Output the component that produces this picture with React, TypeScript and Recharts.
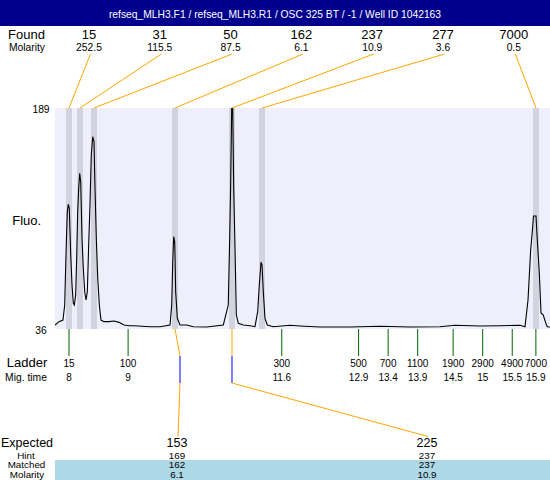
import React from "react";
import {
  ComposedChart,
  Line,
  XAxis,
  YAxis,
  CartesianGrid,
  ReferenceArea,
  ReferenceLine
} from "recharts";

const FONT = "'Liberation Sans', Arial, Helvetica, sans-serif";

// electropherogram trace: migration time (s) vs fluorescence
const traceTime = [
  7.763, 7.831, 7.898, 7.927, 7.949, 7.971, 7.988, 8.005, 8.029, 8.051,
  8.073, 8.09, 8.113, 8.13, 8.147, 8.164, 8.181, 8.198, 8.22, 8.242,
  8.266, 8.288, 8.31, 8.333, 8.355, 8.377, 8.401, 8.423, 8.44, 8.462,
  8.486, 8.513, 8.541, 8.592, 8.677, 8.761, 8.846, 8.931, 9.015, 9.1,
  9.371, 9.54, 9.709, 9.738, 9.755, 9.772, 9.789, 9.805, 9.833, 9.878,
  9.992, 10.103, 10.33, 10.611, 10.695, 10.719, 10.736, 10.753, 10.77, 10.787,
  10.809, 10.831, 10.865, 10.949, 11.063, 11.147, 11.193, 11.22, 11.249, 11.266,
  11.288, 11.316, 11.355, 11.457, 11.739, 11.909, 12.247, 12.755, 13.262, 13.77,
  14.277, 14.531, 14.954, 15.293, 15.631, 15.716, 15.767, 15.812, 15.846, 15.86,
  15.902, 15.924, 15.958, 15.987, 16.025, 16.066, 16.093, 16.139
];
const traceFluo = [
  38.8, 41.1, 42.2, 52.6, 87.2, 117.2, 122.3, 119.6, 87.2, 66.5,
  53.8, 52.6, 59.5, 85.2, 117.2, 133.4, 143.8, 138.0, 98.8, 78.0,
  61.8, 56.1, 61.8, 94.1, 121.8, 156.5, 169.1, 165.7, 133.4, 98.8,
  71.1, 52.6, 42.2, 41.1, 41.1, 41.5, 40.6, 38.8, 38.3, 38.3,
  37.6, 37.6, 38.8, 52.6, 82.6, 99.9, 96.4, 61.8, 43.4, 38.8,
  38.8, 37.6, 37.4, 38.8, 52.6, 98.8, 138.0, 189, 189, 133.4,
  91.9, 45.7, 39.9, 38.8, 38.3, 37.6, 48.0, 66.5, 82.2, 80.3,
  61.8, 43.4, 38.8, 37.6, 38.6, 38.1, 37.4, 37.4, 37.9, 37.4,
  37.6, 38.6, 38.1, 38.3, 38.6, 37.6, 56.1, 90.7, 106.6, 114.2,
  114.2, 97.6, 74.8, 47.1, 45.7, 40.2, 37.6, 37.4
];

// found peaks
const foundSize = [15, 31, 50, 162, 237, 277, 7000];
const foundMolarity = [252.5, 115.5, 87.5, 6.1, 10.9, 3.6, 0.5];
const foundTime = [8.0, 8.186, 8.423, 9.794, 10.758, 11.266, 15.902];

// ladder
const ladderSize = [15, 100, 300, 500, 700, 1100, 1900, 2900, 4900, 7000];
const ladderTime = [8, 9, 11.6, 12.9, 13.4, 13.9, 14.5, 15, 15.5, 15.9];

// expected fragments
const expectedSize = [153, 225];
const hintSize = [169, 237];
const matchedSize = [162, 237];
const matchedMolarity = [6.1, 10.9];
const matchedTime = [9.794, 10.758];
const hintTime = [9.878, 10.758];

const yTicks = [36, 189];

const traceData = traceTime.map((t, i) => ({ t, fluo: traceFluo[i] }));

const BAND_HALF = 0.051;
const foundLabelX = (i: number) => 89 + i * 70.8;
const expectedLabelX = [177, 427];

const ORANGE = "#FFA500";

function foundShape(i: number) {
  return (p: any) => {
    const top = Math.min(p.y1, p.y2);
    const lx = foundLabelX(i);
    return (
      <g fontFamily={FONT} fill="#000">
        <line x1={lx + 1.5} y1={54} x2={p.x1} y2={top} stroke={ORANGE} strokeWidth={1} />
        <text x={lx} y={39} textAnchor="middle" fontSize={13}>{foundSize[i]}</text>
        <text x={lx} y={51} textAnchor="middle" fontSize={10.3}>{foundMolarity[i]}</text>
      </g>
    );
  };
}

function ladderShape(i: number) {
  return (p: any) => {
    const bottom = Math.max(p.y1, p.y2);
    return (
      <g fontFamily={FONT} fill="#000">
        <line x1={p.x1} y1={bottom} x2={p.x1} y2={bottom + 27} stroke="#006400" strokeWidth={1} />
        <text x={p.x1} y={367} textAnchor="middle" fontSize={10}>{ladderSize[i]}</text>
        <text x={p.x1} y={381} textAnchor="middle" fontSize={10}>{ladderTime[i]}</text>
      </g>
    );
  };
}

function expectedShape(i: number) {
  return (p: any) => {
    const xPeak = p.x1;
    const xHint = p.x2;
    const bottom = p.y1;
    const lx = expectedLabelX[i];
    return (
      <g fontFamily={FONT} fill="#000">
        <line x1={xPeak} y1={bottom} x2={xHint} y2={bottom + 27} stroke={ORANGE} />
        <line x1={xHint} y1={bottom + 27} x2={xHint} y2={bottom + 54} stroke="#0000FF" />
        <line x1={xHint} y1={bottom + 54} x2={lx + 1} y2={436.5} stroke={ORANGE} />
        <text x={lx} y={446.5} textAnchor="middle" fontSize={12.5}>{expectedSize[i]}</text>
        <text x={lx} y={458.5} textAnchor="middle" fontSize={9.8}>{hintSize[i]}</text>
        <text x={lx} y={468.3} textAnchor="middle" fontSize={9.8}>{matchedSize[i]}</text>
        <text x={lx} y={477.8} textAnchor="middle" fontSize={9.8}>{matchedMolarity[i]}</text>
      </g>
    );
  };
}

const YTick = (p: any) => (
  <text x={41} y={p.y} dy={5} textAnchor="middle" fontSize={10.3} fontFamily={FONT} fill="#000">
    {p.payload.value}
  </text>
);

export default function App() {
  return (
    <div style={{ position: "absolute", left: 0, top: 0, width: 550, height: 480, background: "#fff" }}>
      <svg width={550} height={480} style={{ position: "absolute", left: 0, top: 0 }}>
        <rect x={0} y={0} width={550} height={26} fill="#00008C" />
        <text x={275} y={17.5} textAnchor="middle" fill="#fff" fontSize={10.3} fontFamily={FONT}>
          refseq_MLH3.F1 / refseq_MLH3.R1 / OSC 325 BT / -1 / Well ID 1042163
        </text>
        <rect x={55} y={460} width={495} height={20} fill="#ADD8E6" />
        <g fontFamily={FONT} fill="#000" textAnchor="middle">
          <text x={26.5} y={39} fontSize={13}>Found</text>
          <text x={27} y={51} fontSize={10.3}>Molarity</text>
          <text x={26.7} y={225} fontSize={13}>Fluo.</text>
          <text x={27} y={367} fontSize={13}>Ladder</text>
          <text x={26} y={381} fontSize={10.3}>Mig. time</text>
          <text x={27} y={446.5} fontSize={12.5}>Expected</text>
          <text x={26} y={458.5} fontSize={9.8}>Hint</text>
          <text x={26.5} y={468.3} fontSize={9.8}>Matched</text>
          <text x={27} y={477.8} fontSize={9.8}>Molarity</text>
        </g>
      </svg>
      <div style={{ position: "absolute", left: 0, top: 0 }}>
        <ComposedChart
          width={550}
          height={480}
          data={traceData}
          margin={{ top: 108, right: 0, bottom: 151, left: 0 }}
        >
          <CartesianGrid fill="#EFEFFC" horizontal={false} vertical={false} />
          <XAxis
            dataKey="t"
            type="number"
            domain={[7.763, 16.139]}
            allowDataOverflow
            hide
          />
          <YAxis
            type="number"
            domain={[36, 189]}
            ticks={yTicks}
            allowDataOverflow
            width={55}
            axisLine={false}
            tickLine={false}
            tick={YTick}
          />
          {foundTime.map((t, i) => (
            <ReferenceArea
              key={"band" + i}
              x1={t - BAND_HALF}
              x2={t + BAND_HALF}
              fill="#D3D3E0"
              fillOpacity={1}
              stroke="none"
              ifOverflow="visible"
            />
          ))}
          <Line
            type="linear"
            dataKey="fluo"
            stroke="#000"
            strokeWidth={1.1}
            dot={false}
            activeDot={false}
            isAnimationActive={false}
          />
          {foundTime.map((t, i) => (
            <ReferenceLine key={"found" + i} x={t} ifOverflow="visible" shape={foundShape(i)} />
          ))}
          {ladderTime.map((t, i) => (
            <ReferenceLine key={"ladder" + i} x={t} ifOverflow="visible" shape={ladderShape(i)} />
          ))}
          {expectedSize.map((_, i) => (
            <ReferenceLine
              key={"exp" + i}
              segment={[
                { x: matchedTime[i], y: 36 },
                { x: hintTime[i], y: 36 }
              ]}
              ifOverflow="visible"
              shape={expectedShape(i)}
            />
          ))}
        </ComposedChart>
      </div>
    </div>
  );
}
